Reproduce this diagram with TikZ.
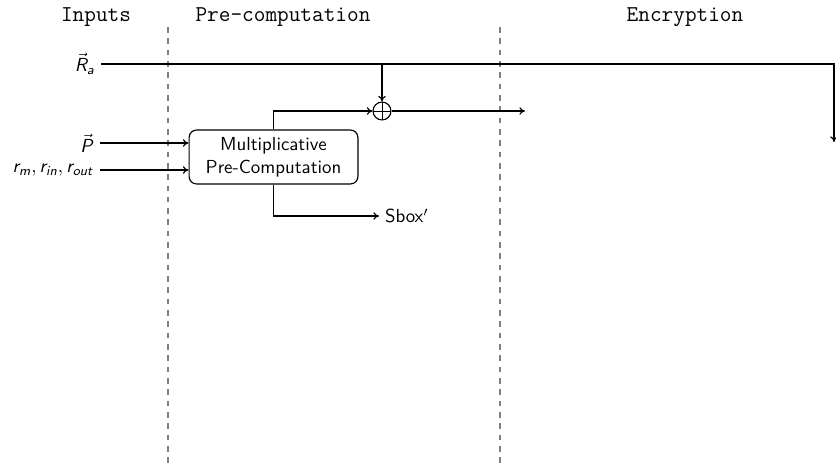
\documentclass[tikz,border=0pt]{standalone}
\renewcommand{\familydefault}{\sfdefault}
\DeclareMathAlphabet{\mathsfit}{OT1}{cmss}{m}{sl}
\usetikzlibrary{arrows.meta}
\begin{document}
\begin{tikzpicture}[x=0.53pt,y=-0.53pt,
  font=\sffamily,
  wire/.style={line width=0.6pt},
  flow/.style={wire,-{To[length=3pt,width=4pt]}},
  phase/.style={font=\large\ttfamily},
  divider/.style={gray,dashed,line width=0.6pt,dash pattern=on 3pt off 3pt},
  procbox/.style={draw,line width=0.6pt,rounded corners=4pt,align=center,
    minimum width=89.5pt,minimum height=28.6pt,inner sep=2pt},
  xorgate/.style={draw,circle,line width=0.6pt,minimum size=9.5pt,inner sep=0pt,
    path picture={\draw[line width=0.5pt]
      (path picture bounding box.north) -- (path picture bounding box.south)
      (path picture bounding box.west) -- (path picture bounding box.east);}},
  lbl/.style={anchor=east,inner sep=3pt}]
  \clip (0,0) rectangle (836,466);
  \useasboundingbox (0,0) rectangle (836,466);

  % phase headings and separators
  \node[phase] (hin)  at (96,17)  {Inputs};
  \node[phase] (hpre) at (283,17) {Pre-computation};
  \node[phase] (henc) at (685,17) {Encryption};
  \coordinate (d1top) at (168,27);
  \coordinate (d1bot) at (168,466);
  \coordinate (d2top) at (500,27);
  \coordinate (d2bot) at (500,466);
  \draw[divider] (d1top) -- (d1bot);
  \draw[divider] (d2top) -- (d2bot);

  % inputs
  \node[lbl] (Ra) at (101,64)  {$\vec{\mathsfit{R}}_{\mathsfit{a}}$};
  \node[lbl] (P)  at (100,143) {$\vec{\mathsfit{P}}$};
  \node[lbl] (r)  at (100,170) {$\mathsfit{r}_{\mathsfit{m}}, \mathsfit{r}_{\mathsfit{in}}, \mathsfit{r}_{\mathsfit{out}}$};

  % pre-computation block and masking
  \node[procbox] (mpc) at (273.5,157) {Multiplicative\\Pre-Computation};
  \node[xorgate] (xor) at (382,111) {};
  \node[anchor=west,inner sep=3pt] (sbox) at (379,216) {Sbox$'$};

  \coordinate (rcorner) at (834,64);
  \coordinate (rdown)   at (834,142);
  \coordinate (tap)     at (382,64);
  \coordinate (xout)    at (525,111);

  \draw[flow] (Ra.east) -- (rcorner) -- (rdown);
  \draw[flow] (tap) -- (xor.north);
  \draw[flow] (P.east) -- (P.east -| mpc.west);
  \draw[flow] (r.east) -- (r.east -| mpc.west);
  \draw[flow] (mpc.north) |- (xor.west);
  \draw[flow] (xor.east) -- (xout);
  \draw[flow] (mpc.south) |- (sbox.west);
\end{tikzpicture}
\end{document}
